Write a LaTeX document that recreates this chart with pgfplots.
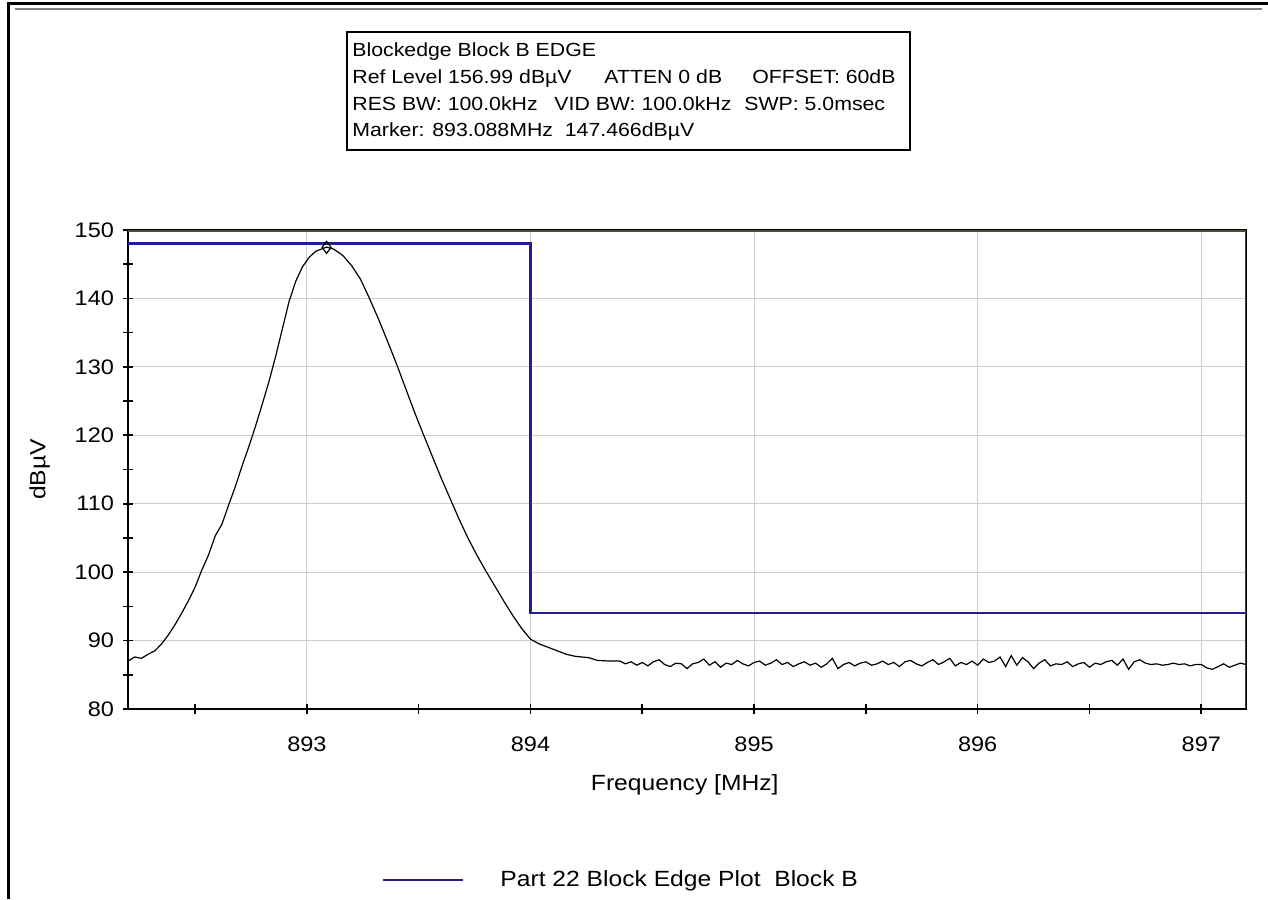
\documentclass[border=0pt]{standalone}
\usepackage{fontspec}
\setmainfont[FakeStretch=1.12]{Liberation Sans}
\usepackage{pgfplots}
\pgfplotsset{compat=1.18}
\definecolor{traceblue}{RGB}{38,30,140}
\definecolor{gridgray}{RGB}{205,205,205}
\definecolor{topline}{RGB}{75,75,55}

\pgfplotstableread{
f        lvl
892.200  87.0
892.230  87.6
892.260  87.4
892.290  88.0
892.320  88.5
892.350  89.5
892.380  90.8
892.410  92.3
892.440  94.0
892.470  95.8
892.500  97.8
892.530  100.3
892.560  102.5
892.590  105.3
892.620  107.0
892.650  109.8
892.680  112.5
892.710  115.5
892.740  118.3
892.770  121.3
892.800  124.5
892.830  127.8
892.860  131.5
892.890  135.5
892.920  139.5
892.950  142.5
892.980  144.6
893.010  146.0
893.040  146.9
893.088  147.5
893.120  147.2
893.160  146.3
893.200  144.8
893.240  142.8
893.280  140.0
893.320  137.0
893.360  133.8
893.400  130.5
893.440  127.0
893.480  123.5
893.520  120.2
893.560  117.0
893.600  113.8
893.640  110.8
893.680  107.8
893.720  105.0
893.760  102.5
893.800  100.2
893.840  98.0
893.880  95.8
893.920  93.7
893.960  91.8
894.000  90.2
894.040  89.5
894.080  89.0
894.120  88.5
894.160  88.0
894.200  87.7
894.260  87.5
894.300  87.1
894.360  87.0
894.400  87.0
894.425  86.6
894.450  86.9
894.475  86.4
894.500  86.8
894.525  86.3
894.550  86.9
894.575  87.2
894.600  86.5
894.625  86.2
894.650  86.7
894.675  86.6
894.700  85.9
894.725  86.6
894.750  86.8
894.775  87.3
894.800  86.4
894.825  86.9
894.850  86.1
894.875  86.7
894.900  86.5
894.925  87.1
894.950  86.6
894.975  86.3
895.000  86.8
895.025  87.0
895.050  86.4
895.075  86.7
895.100  87.2
895.125  86.5
895.150  86.8
895.175  86.2
895.200  86.6
895.225  86.9
895.250  86.4
895.275  86.7
895.300  86.1
895.325  86.6
895.350  87.4
895.375  85.9
895.400  86.5
895.425  86.8
895.450  86.3
895.475  86.7
895.500  86.9
895.525  86.4
895.550  86.6
895.575  87.0
895.600  86.5
895.625  86.8
895.650  86.2
895.675  86.9
895.700  87.1
895.725  86.6
895.750  86.3
895.775  86.8
895.800  87.2
895.825  86.5
895.850  86.9
895.875  87.4
895.900  86.3
895.925  86.8
895.950  86.5
895.975  87.0
896.000  86.4
896.025  87.3
896.050  86.8
896.075  87.0
896.100  87.6
896.125  86.2
896.150  87.8
896.175  86.4
896.200  87.5
896.225  86.9
896.250  85.9
896.275  86.7
896.300  87.2
896.325  86.3
896.350  86.6
896.375  86.5
896.400  86.9
896.425  86.2
896.450  86.6
896.475  86.8
896.500  86.1
896.525  86.7
896.550  86.5
896.575  86.9
896.600  87.1
896.625  86.4
896.650  87.3
896.675  85.8
896.700  86.9
896.725  87.2
896.750  86.7
896.775  86.5
896.800  86.6
896.825  86.4
896.850  86.5
896.875  86.7
896.900  86.5
896.925  86.6
896.950  86.3
896.975  86.5
897.000  86.5
897.025  86.0
897.050  85.8
897.075  86.2
897.100  86.6
897.125  86.1
897.150  86.4
897.175  86.7
897.200  86.5
}\trace

\begin{document}
\begin{tikzpicture}
\path[use as bounding box] (0pt,0pt) rectangle (634pt,449.5pt);
% page frame
\draw[line width=1.5pt] (3.3pt,447.6pt) -- (634pt,447.6pt);
\draw[line width=1.5pt] (4pt,448.3pt) -- (4pt,0pt);
\draw[gray, line width=1pt] (7.5pt,444.8pt) -- (631pt,444.8pt);

\begin{axis}[
  at={(64pt,95pt)}, anchor=south west,
  scale only axis, width=559pt, height=239.5pt,
  xmin=892.2, xmax=897.2, ymin=80, ymax=150,
  xtick={893,894,895,896,897}, ytick={80,90,...,150},
  minor xtick={892.5,893.5,894.5,895.5,896.5},
  minor ytick={85,95,...,145},
  grid=major, major grid style={gridgray, line width=0.5pt},
  tick align=center, xtick pos=left, ytick pos=left,
  major tick length=5pt, minor tick length=5pt,
  every tick/.style={black, line width=0.8pt},
  axis line style={line width=1pt},
  tick label style={font=\fontsize{10.5}{12}\selectfont},
  /pgf/number format/assume math mode=true,
  xticklabel style={yshift=-8pt},
  yticklabel style={xshift=-1pt},
  xlabel={Frequency [MHz]}, ylabel={dBµV},
  label style={font=\fontsize{11}{13}\selectfont},
  xlabel style={at={(axis description cs:0.498,-0.159)}, anchor=center},
  ylabel style={at={(axis description cs:-0.079,0.5)}, anchor=center},
  legend style={at={(axis description cs:0.2215,-0.357)}, anchor=west,
    draw=none, fill=none, font=\fontsize{11}{13}\selectfont,
    nodes={inner sep=0pt}, column sep=18pt},
  legend image code/.code={\draw[#1] (0pt,0pt) -- (40pt,0pt);},
]
\addplot[traceblue, line width=1.2pt] coordinates
  {(892.2,148) (894,148) (894,94) (897.2,94)};
\addlegendentry{Part 22 Block Edge Plot\ \ Block B}
\addplot[black, line width=0.6pt, forget plot] table[x=f, y=lvl] {\trace};
\addplot[black, only marks, mark=diamond, mark size=3pt,
  mark options={fill=white, line width=0.6pt}, forget plot]
  coordinates {(893.088,147.466)};
\draw[topline, line width=1.6pt] (rel axis cs:0,1) -- (rel axis cs:1,1);
\draw[darkgray, line width=1pt] (rel axis cs:1,0) -- (rel axis cs:1,1);
\end{axis}

% info box
\draw[line width=1pt] (173.5pt,374.5pt) rectangle (455pt,433.5pt);
\begin{scope}[every node/.style={anchor=base west, inner sep=0pt,
    font=\fontsize{9.5}{11}\selectfont}]
\node at (176pt,421.25pt) {Blockedge Block B EDGE};
\node at (176pt,407.75pt) {Ref Level 156.99 dBµV};
\node at (302pt,407.75pt) {ATTEN 0 dB};
\node at (376pt,407.75pt) {OFFSET: 60dB};
\node at (176pt,394.25pt) {RES BW: 100.0kHz};
\node at (277pt,394.25pt) {VID BW: 100.0kHz};
\node at (372pt,394.25pt) {SWP: 5.0msec};
\node at (176pt,381.25pt) {Marker: 893.088MHz\ \ 147.466dBµV};
\end{scope}
\end{tikzpicture}
\end{document}
